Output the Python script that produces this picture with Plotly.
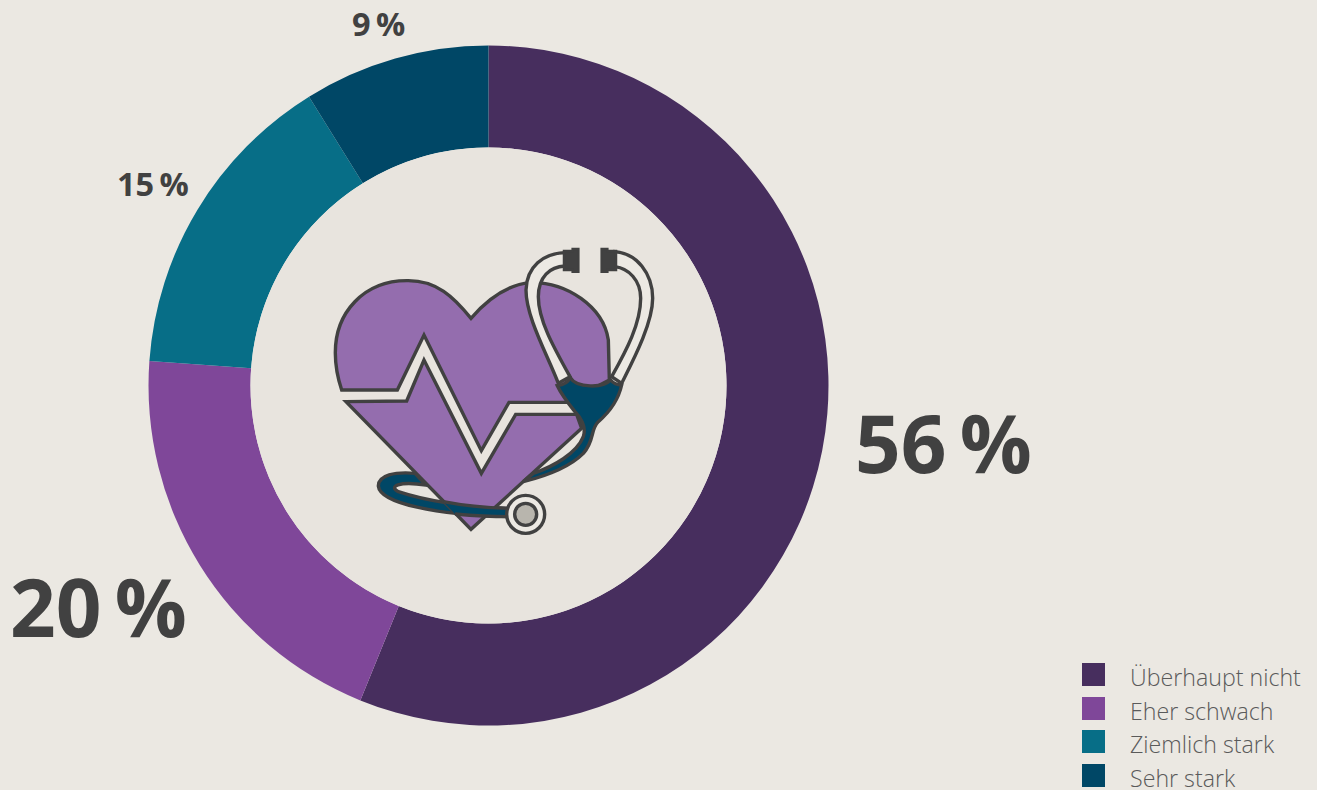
import plotly.graph_objects as go

W, H = 1317, 790
categories = ["Überhaupt nicht", "Eher schwach", "Ziemlich stark", "Sehr stark"]
values = [56.15, 20.0, 15.0, 8.85]
value_labels = ["56\u2009%", "20\u2009%", "15\u2009%", "9\u2009%"]
label_sizes = [80, 80, 32.5, 32.5]
label_centers = [(943, 441), (99, 605), (153, 183), (378, 23)]
colors = ["#472E5E", "#7F4799", "#076E87", "#004766"]
BG = "#EBE8E2"
HOLE = "#E8E4DE"
INK = "#414141"
HEART = "#946DAE"
TUBE = "#ECE9E3"
NAVY = "#004766"

def px(x): return x / W
def py(y): return 1 - y / H

def ic(path):
    """icon path given in 3x crop units -> paper coordinates"""
    out, is_x = [], True
    for tok in path.replace(",", " ").split():
        if tok.isalpha():
            out.append(tok); is_x = True
        else:
            v = float(tok) / 3
            out.append(f"{px(320 + v):.5f}" if is_x else f"{py(240 + v):.5f}")
            is_x = not is_x
    return " ".join(out)

def shp(path, fill, lw=3.4):
    return dict(type="path", xref="paper", yref="paper", path=ic(path), fillcolor=fill,
                line=dict(color=INK, width=lw), layer="above")

def circ(cx, cy, r, fill, lw=3.4, col=INK):
    return dict(type="circle", xref="paper", yref="paper", x0=px(cx - r), x1=px(cx + r),
                y0=py(cy + r), y1=py(cy - r), fillcolor=fill, line=dict(color=col, width=lw), layer="above")

shapes = [circ(488.5, 385.5, 238, HOLE, 0, HOLE)]
shapes += [
    shp("M 285 700 C 225 695 175 705 175 738 C 180 790 350 825 565 830 L 565 805 C 430 800 310 780 235 755 C 205 740 235 722 318 735 Z", NAVY),
    shp("M 65 450 L 232 450 L 312 285 L 484 632 L 567 487 L 740 487 L 868 420 L 865 300 C 850 200 740 125 630 128 C 560 135 500 180 453 235 C 400 170 350 122 265 122 C 130 120 45 220 46 340 C 46 380 55 420 65 450 Z", HEART),
    shp("M 78 485 L 260 483 L 312 360 L 484 700 L 587 523 L 770 523 L 785 565 L 453 868 Z", HEART),
    shp("M 370 785 C 420 795 480 803 565 805 L 565 830 C 510 830 450 826 405 822 Z", NAVY, 0),
    shp("M 370 785 C 420 795 480 803 565 805", "rgba(0,0,0,0)"),
    shp("M 405 822 C 450 826 510 830 565 830", "rgba(0,0,0,0)"),
    shp("M 735 38 C 670 40 620 80 618 150 C 618 230 680 340 715 430 L 750 410 C 700 320 655 240 655 170 C 655 110 690 80 735 78 Z", TUBE),
    shp("M 885 35 C 950 40 998 100 998 175 C 998 250 940 360 905 430 L 875 410 C 920 330 962 250 962 175 C 962 120 925 85 885 80 Z", TUBE),
    shp("M 732 33 L 758 33 L 758 27 L 775 27 L 775 95 L 758 95 L 758 90 L 732 90 Z", INK, 2.5),
    shp("M 888 33 L 862 33 L 862 27 L 845 27 L 845 95 L 862 95 L 862 90 L 888 90 Z", INK, 2.5),
    shp("M 712 437 C 730 435 745 425 750 412 C 770 445 850 445 872 420 C 880 430 895 435 905 435 C 895 480 870 515 835 545 C 810 570 825 600 790 640 C 750 680 690 705 610 725 L 640 700 C 700 680 770 640 790 590 C 800 560 780 530 765 515 C 745 490 725 465 712 437 Z", NAVY),
    circ(320 + 617 / 3, 240 + 823 / 3, 19, TUBE),
    circ(320 + 617 / 3, 240 + 823 / 3, 11, "#B8B5AD"),
]

swatch_tops = [663, 697, 730, 764]
annotations = []
for name, col, top in zip(categories, colors, swatch_tops):
    shapes.append(dict(type="rect", xref="paper", yref="paper", x0=px(1082), x1=px(1105),
                       y0=py(top + 23), y1=py(top), fillcolor=col, line=dict(width=0), layer="above"))
    annotations.append(dict(xref="paper", yref="paper", x=px(1128), y=py(top + 14), text=name,
                            showarrow=False, xanchor="left", yanchor="middle",
                            font=dict(family="Open Sans", size=23.2, weight=300, color="#5A5A5A")))
for txt, size, (cx, cy) in zip(value_labels, label_sizes, label_centers):
    annotations.append(dict(xref="paper", yref="paper", x=px(cx), y=py(cy), text=txt, showarrow=False,
                            xanchor="center", yanchor="middle",
                            font=dict(family="Open Sans", size=size, weight=700, color=INK)))

fig = go.Figure(go.Pie(
    labels=categories, values=values, textinfo="none",
    sort=False, direction="clockwise", rotation=0, hole=0.7,
    marker=dict(colors=colors, line=dict(width=0)),
    domain=dict(x=[px(148.5), px(828.5)], y=[py(725.5), py(45.5)]),
    showlegend=False, hoverinfo="label+percent",
))
fig.update_layout(width=W, height=H, margin=dict(l=0, r=0, t=0, b=0), paper_bgcolor=BG,
                  shapes=shapes, annotations=annotations, showlegend=False)
fig.write_html("out.html", config={"displayModeBar": False},
               post_script="document.body.style.margin='0';document.body.style.overflow='hidden';document.body.style.background='" + BG + "';")
